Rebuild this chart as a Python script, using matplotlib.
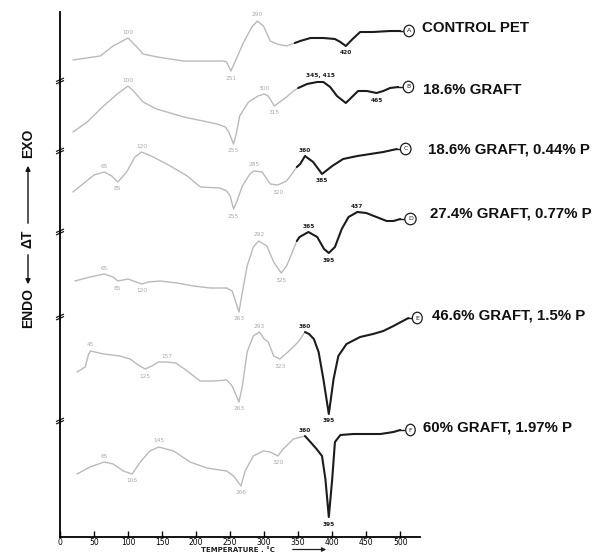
import matplotlib
matplotlib.use("Agg")
import matplotlib.pyplot as plt
import numpy as np

# ---- DTA traces: temperature (°C) and ΔT relative to each trace's own baseline ----
temp_a = [19, 59, 78, 100, 113, 122, 143, 181, 240, 245, 251, 257, 270, 282, 290, 299, 309,
          319, 333, 345, 353, 368, 387, 404, 412, 420, 430, 441, 460, 485, 500]
dt_a = [7, 11, 21, 29, 20, 13, 10, 6, 6, 5, -4, 5, 25, 40, 46, 41, 26,
        23, 21, 24, 26, 29, 29, 28, 25, 21, 28, 35, 35, 36, 36]

temp_b = [19, 40, 64, 84, 100, 108, 122, 142, 182, 231, 243, 248, 255, 259, 264, 277, 291,
          300, 306, 315, 323, 333, 343, 350, 363, 378, 387, 397, 407, 420, 429, 438, 451,
          465, 475, 485, 497]
dt_b = [5, 15, 31, 43, 51, 46, 35, 28, 20, 13, 10, 5, -7, 3, 21, 35, 41,
        43, 41, 31, 35, 40, 46, 49, 53, 55, 55, 50, 41, 34, 40, 46, 46,
        44, 46, 49, 50]

temp_c = [19, 39, 50, 65, 76, 85, 98, 110, 120, 137, 162, 187, 206, 235, 245, 250, 255, 260,
          268, 279, 285, 297, 309, 320, 333, 348, 353, 360, 372, 385, 400, 416, 437, 456,
          475, 495]
dt_c = [5, 16, 22, 25, 21, 15, 25, 40, 45, 40, 31, 21, 10, 9, 6, 1, -12, -4,
        11, 23, 26, 25, 13, 12, 16, 30, 33, 41, 35, 23, 31, 38, 41, 43,
        45, 48]

temp_d = [22, 44, 65, 78, 85, 100, 120, 130, 147, 172, 196, 221, 245, 253, 263, 267, 275,
          284, 292, 304, 314, 325, 333, 348, 352, 365, 378, 388, 395, 404, 414, 424, 437,
          450, 465, 480, 490, 500]
dt_d = [6, 10, 13, 10, 6, 8, 3, 5, 6, 4, 1, -1, -1, -4, -25, -9, 21,
        40, 46, 41, 25, 14, 21, 46, 50, 55, 50, 38, 34, 40, 58, 70, 75,
        74, 70, 66, 66, 68]

temp_e = [25, 37, 42, 45, 64, 88, 103, 113, 125, 135, 145, 157, 170, 183, 206, 226, 245,
          253, 263, 268, 275, 284, 293, 300, 306, 314, 323, 335, 350, 360, 366, 373, 380,
          387, 395, 402, 409, 421, 441, 460, 475, 490, 512]
dt_e = [5, 10, 23, 26, 23, 21, 18, 13, 8, 11, 15, 15, 14, 8, -4, -4, -3,
        -9, -25, -9, 25, 41, 45, 38, 35, 21, 18, 25, 35, 45, 43, 38, 25,
        -2, -37, -2, 21, 33, 40, 43, 46, 51, 59]

temp_f = [25, 44, 65, 78, 93, 106, 118, 132, 145, 167, 191, 216, 245, 255, 266, 272, 284,
          299, 309, 320, 328, 343, 360, 368, 377, 385, 390, 395, 400, 404, 412, 431, 451,
          471, 490, 500]
dt_f = [3, 10, 15, 13, 6, 3, 15, 26, 30, 26, 15, 9, 6, 1, -9, 6, 21,
        26, 25, 21, 28, 38, 41, 35, 28, 21, -2, -40, -2, 35, 42, 43, 43,
        43, 45, 47]

# temperatures written beside the peaks and troughs ('up' = above the trace)
marks_a = [(100, "up"), (251, "dn"), (290, "up"), (420, "dn")]
marks_b = [(100, "up"), (255, "dn"), (300, "up"), (315, "dn"), (465, "dn")]
marks_c = [(65, "up"), (85, "dn"), (120, "up"), (255, "dn"), (285, "up"), (320, "dn"),
           (360, "up"), (385, "dn")]
marks_d = [(65, "up"), (85, "dn"), (120, "dn"), (263, "dn"), (292, "up"), (325, "dn"),
           (365, "up"), (395, "dn"), (437, "up")]
marks_e = [(45, "up"), (125, "dn"), (157, "up"), (263, "dn"), (293, "up"), (323, "dn"),
           (360, "up"), (395, "dn")]
marks_f = [(65, "up"), (106, "dn"), (145, "up"), (266, "dn"), (320, "dn"), (360, "up"),
           (395, "dn")]

names = ["CONTROL PET", "18.6% GRAFT", "18.6% GRAFT, 0.44% P",
         "27.4% GRAFT, 0.77% P", "46.6% GRAFT, 1.5% P", "60% GRAFT, 1.97% P"]
letters = ["A", "B", "C", "D", "E", "F"]
ink_from = [345, 350, 348, 348, 360, 360]   # temperature where the trace turns black

x_ticks = [0, 50, 100, 150, 200, 250, 300, 350, 400, 450, 500]

temps = [temp_a, temp_b, temp_c, temp_d, temp_e, temp_f]
deltas = [dt_a, dt_b, dt_c, dt_d, dt_e, dt_f]
marks = [marks_a, marks_b, marks_c, marks_d, marks_e, marks_f]

# ---- layout ----
W, H = 602, 552
baselines = [470, 400, 340, 250, 160, 60]
name_pos = [(422, 28), (423, 90), (428, 150), (430, 213), (432, 315), (423, 428)]
circle_gap = [8, 10, 8, 10, 8, 10]
break_y = [456, 386, 305, 220, 116]

GREY = "#bababa"
INK = "#1c1c1c"

fig = plt.figure(figsize=(W / 100, H / 100), dpi=100)
ax = fig.add_axes([60 / W, 15 / H, 360 / W, 525 / H])
ax.set_xlim(0, 529)
ax.set_ylim(0, 525)

for t, d, base, start, mk, letter in zip(temps, deltas, baselines, ink_from, marks, letters):
    t = np.asarray(t, float)
    y = np.asarray(d, float) + base
    g = t <= start
    b = t >= start
    ax.plot(t[g], y[g], color=GREY, lw=1.0, solid_capstyle="round", zorder=2)
    ax.plot(t[b], y[b], color=INK, lw=1.5, solid_capstyle="round", zorder=3)
    for temp, side in mk:
        i = int(np.argmin(np.abs(t - temp)))
        off = 6 if side == "up" else -7
        dark = temp >= start
        ax.text(temp, y[i] + off, f"{temp}", ha="center", va="center",
                fontsize=4.2, color=INK if dark else "#aaaaaa",
                fontweight="bold" if dark else "normal", zorder=4)

# combined label over the broad exotherm of the grafted sample
ax.text(383, dt_b[temp_b.index(378)] + baselines[1] + 6, "345, 415", ha="center",
        va="center", fontsize=4.2, color=INK, fontweight="bold")

# encircled sample letters at the end of each trace
for t, d, base, letter, gap in zip(temps, deltas, baselines, letters, circle_gap):
    xe, ye = t[-1], d[-1] + base
    ax.plot([xe, xe + gap * 0.6], [ye, ye], color=INK, lw=1.0, clip_on=False)
    ax.text(xe + gap + 5, ye, letter, ha="center", va="center", fontsize=4.5,
            color=INK, clip_on=False,
            bbox=dict(boxstyle="ellipse,pad=0.25", fc="white", ec=INK, lw=0.9))

# sample names to the right
for (px, py), name in zip(name_pos, names):
    fig.text(px / W, 1 - py / H, name, ha="left", va="center", fontsize=10.8,
             fontweight="bold", family=["Liberation Sans", "DejaVu Sans"],
             color="#111111")

# axes styling
for s in ("top", "right"):
    ax.spines[s].set_visible(False)
ax.spines["left"].set_linewidth(1.3)
ax.spines["bottom"].set_linewidth(1.3)
ax.set_yticks([])
ax.set_xticks(x_ticks)
ax.set_xticklabels([str(v) for v in x_ticks])
ax.tick_params(axis="x", direction="in", length=4, width=1, pad=0.6, labelsize=5.5)

# axis break marks on the ΔT axis
for yb in break_y:
    for dy in (-1.2, 1.2):
        ax.plot([-5, 5], [yb + dy - 1.5, yb + dy + 1.5], color=INK, lw=0.9, clip_on=False)

# axis titles
fig.text(238 / W, 1 - 549.5 / H, "TEMPERATURE , °C", ha="center", va="center",
         fontsize=5, fontweight="bold", color="#222222")
ax.annotate("", xy=(329 / W, 1 - 549.5 / H), xytext=(290 / W, 1 - 549.5 / H),
            xycoords="figure fraction", textcoords="figure fraction",
            arrowprops=dict(arrowstyle="-|>", color="#222222", lw=0.9,
                            mutation_scale=6))

lab = dict(rotation=90, ha="center", va="center", fontsize=10, fontweight="bold",
           family=["Liberation Sans", "DejaVu Sans"], color="#111111")
fig.text(28 / W, 1 - 308 / H, "ENDO", **lab)
fig.text(28 / W, 1 - 239 / H, "ΔT", **lab)
fig.text(28 / W, 1 - 143 / H, "EXO", **lab)
arrow = dict(arrowstyle="-|>", color="#111111", lw=1.0, mutation_scale=7)
ax.annotate("", xy=(28 / W, 1 - 287 / H), xytext=(28 / W, 1 - 252 / H),
            xycoords="figure fraction", textcoords="figure fraction", arrowprops=arrow)
ax.annotate("", xy=(28 / W, 1 - 163 / H), xytext=(28 / W, 1 - 226 / H),
            xycoords="figure fraction", textcoords="figure fraction", arrowprops=arrow)

fig.savefig("out.png", dpi=100, facecolor="white")
